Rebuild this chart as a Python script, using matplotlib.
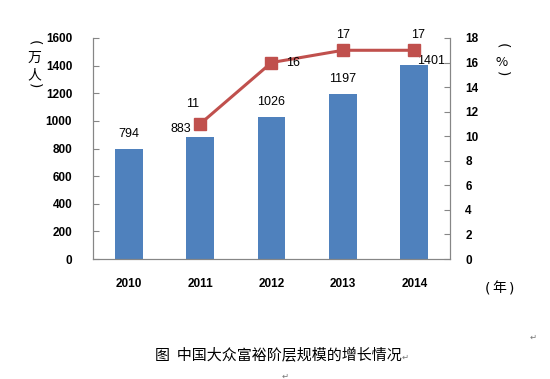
import matplotlib
matplotlib.use("Agg")
import matplotlib.pyplot as plt
import numpy as np

years = ["2010", "2011", "2012", "2013", "2014"]
people = [794, 883, 1026, 1197, 1401]          # 万人
growth = [np.nan, 11, 16, 17, 17]              # %
left_ticks = list(range(0, 1601, 200))
right_ticks = list(range(0, 19, 2))
caption = "图  中国大众富裕阶层规模的增长情况"

bar_off = [(0, 15), (-19, 8), (0, 15), (0, 15), (17, 4)]
line_off = [None, (-7, 20), (22, 0), (0, 15), (4, 15)]

plt.rcParams['font.family'] = ['Liberation Sans', 'Noto Sans CJK SC', 'DejaVu Sans']
cjk = ['Noto Sans CJK SC', 'DejaVu Sans']

fig = plt.figure(figsize=(5.5, 3.79), dpi=100)
ax = fig.add_axes([93/550, 1-259/379, (450-93)/550, (259-38)/379])
ax2 = ax.twinx()

x = np.arange(len(years))
ax.bar(x, people, width=0.39, color='#4F81BD', zorder=2)
ax.set_xlim(-0.5, len(years)-0.5)
ax.set_ylim(0, 1600)
ax.set_yticks(left_ticks)
ax.set_xticks(x)
ax.set_xticklabels(years)

ax2.plot(x, growth, color='#C0504D', lw=2.2, marker='s', markersize=8, zorder=3)
ax2.set_ylim(0, 18)
ax2.set_yticks(right_ticks)

grey = '#868686'
for a in (ax, ax2):
    a.spines['top'].set_visible(False)
    for s in ('left', 'right', 'bottom'):
        a.spines[s].set_color(grey)
ax.tick_params(axis='y', direction='in', length=4, color=grey, pad=15, labelsize=8.5)
ax2.tick_params(axis='y', direction='in', length=4, color=grey, pad=11, labelsize=8.5)
ax.tick_params(axis='x', length=0, pad=14, labelsize=8.5)
for lab in ax.get_yticklabels() + ax.get_xticklabels() + ax2.get_yticklabels():
    lab.set_fontweight('bold')

for xi, v, off in zip(x, people, bar_off):
    ax.annotate(str(v), (xi, v), xytext=off, textcoords='offset pixels',
                ha='center', va='center', fontsize=9)
for xi, v, off in zip(x, growth, line_off):
    if off is None or np.isnan(v):
        continue
    ax2.annotate(str(int(v)), (xi, v), xytext=off, textcoords='offset pixels',
                 ha='center', va='center', fontsize=9)

def fx(px):
    return px / 550

def fy(py):
    return 1 - py / 379

# vertical unit label on the left: (万人)
fig.text(fx(34), fy(43), "(", rotation=-90, ha='center', va='center', fontsize=10, family=['DejaVu Sans'])
fig.text(fx(34), fy(58), "万", ha='center', va='center', fontsize=10, family=cjk)
fig.text(fx(34), fy(75), "人", ha='center', va='center', fontsize=10, family=cjk)
fig.text(fx(34), fy(86), ")", rotation=-90, ha='center', va='center', fontsize=10, family=['DejaVu Sans'])

# vertical unit label on the right: (%)
fig.text(fx(502), fy(46), "(", rotation=-90, ha='center', va='center', fontsize=10, family=['DejaVu Sans'])
fig.text(fx(502), fy(62), "%", ha='center', va='center', fontsize=9.5, family=cjk)
fig.text(fx(502), fy(74), ")", rotation=-90, ha='center', va='center', fontsize=10, family=['DejaVu Sans'])

# (年)
fig.text(fx(487), fy(288), "(", ha='center', va='center', fontsize=10, family=['DejaVu Sans'])
fig.text(fx(499), fy(288), "年", ha='center', va='center', fontsize=10, family=cjk)
fig.text(fx(512), fy(288), ")", ha='center', va='center', fontsize=10, family=['DejaVu Sans'])

fig.text(fx(155), fy(355), caption, ha='left', va='center', fontsize=10.8, family=cjk)
fig.text(fx(402), fy(357), "↵", ha='left', va='center', fontsize=6, color='#777777', family=['DejaVu Sans'])
fig.text(fx(530), fy(337), "↵", ha='left', va='center', fontsize=6, color='#777777', family=['DejaVu Sans'])
fig.text(fx(282), fy(376), "↵", ha='left', va='center', fontsize=6, color='#777777', family=['DejaVu Sans'])

fig.savefig("out.png", dpi=100)
